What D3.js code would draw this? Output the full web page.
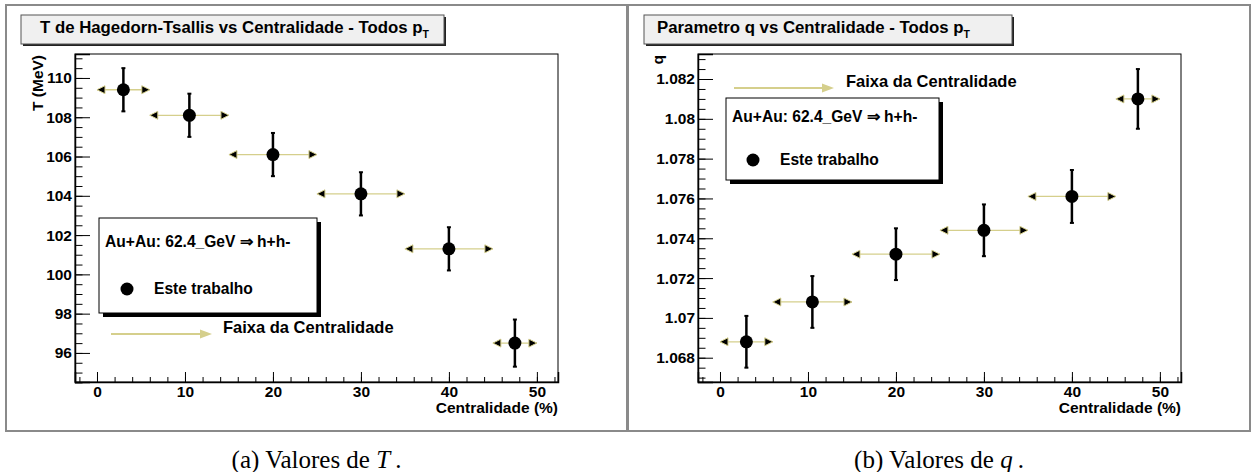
<!DOCTYPE html>
<html><head><meta charset="utf-8">
<script src="https://cdn.jsdelivr.net/npm/d3@7"></script>
<style>
  body { margin: 0; background: #fff; }
  svg { display: block; }
  text { font-family: "Liberation Sans", Arial, Helvetica, sans-serif; font-weight: bold; fill: #000; }
  .caption { font-family: "Liberation Serif", "Times New Roman", serif; font-weight: normal; }
</style>
</head><body>
<script>
// Centrality bins (%) and their half-widths
const centralidade = [3, 10.5, 20, 30, 40, 47.5];
const centralidadeErr = [3, 4.5, 5, 5, 5, 2.5];

// Hagedorn-Tsallis temperature T (MeV) with uncertainties
const tValues = [109.4, 108.1, 106.1, 104.1, 101.3, 96.5];
const tErrors = [1.1, 1.1, 1.1, 1.1, 1.1, 1.2];

// Tsallis q parameter with uncertainties
const qValues = [1.0688, 1.0708, 1.0732, 1.0744, 1.0761, 1.0810];
const qErrors = [0.0013, 0.0013, 0.0013, 0.0013, 0.00133, 0.0015];

// Axis ticks and labels
const xTicks = [0, 10, 20, 30, 40, 50];
const xTickLabels = ["0", "10", "20", "30", "40", "50"];
const tTicks = [96, 98, 100, 102, 104, 106, 108, 110];
const tTickLabels = ["96", "98", "100", "102", "104", "106", "108", "110"];
const qTicks = [1.068, 1.07, 1.072, 1.074, 1.076, 1.078, 1.08, 1.082];
const qTickLabels = ["1.068", "1.07", "1.072", "1.074", "1.076", "1.078", "1.08", "1.082"];

const KHAKI = "#d5cf8c";

const svg = d3.select("body").append("svg")
  .attr("width", 1255).attr("height", 472);

function drawPanel(cfg) {
  const g = svg.append("g");

  // pad frame
  g.append("rect")
    .attr("x", cfg.pad[0]).attr("y", cfg.pad[1])
    .attr("width", cfg.pad[2] - cfg.pad[0]).attr("height", cfg.pad[3] - cfg.pad[1])
    .attr("fill", "#fff").attr("stroke", "#8a8a8a").attr("stroke-width", 2);

  const x = d3.scaleLinear().domain([-2.5, 52.4]).range([cfg.plot.left, cfg.plot.right]);
  const y = d3.scaleLinear().domain(cfg.yDomain).range([cfg.plot.bottom, cfg.plot.top]);

  // plot frame
  g.append("rect")
    .attr("x", cfg.plot.left).attr("y", cfg.plot.top)
    .attr("width", cfg.plot.right - cfg.plot.left).attr("height", cfg.plot.bottom - cfg.plot.top)
    .attr("fill", "none").attr("stroke", "#000").attr("stroke-width", 1);

  // x axis: minor and major ticks pointing inward
  const xMinor = d3.range(-2, 52.5, 2);
  g.append("g").attr("transform", `translate(0,${cfg.plot.bottom})`)
    .call(d3.axisBottom(x).tickValues(xMinor).tickSize(-5).tickFormat(""))
    .call(a => a.select(".domain").remove());
  const xAx = g.append("g").attr("transform", `translate(0,${cfg.plot.bottom})`)
    .call(d3.axisBottom(x).tickValues(xTicks).tickSize(-10).tickPadding(4)
      .tickFormat((d, i) => xTickLabels[i]));
  xAx.select(".domain").attr("stroke", "#000").attr("stroke-width", 1.5);
  xAx.selectAll("text").style("font-size", "15.5px").attr("font-family", null);

  // y axis
  const yMinor = d3.range(cfg.minorStart, cfg.yDomain[1], cfg.minorStep);
  g.append("g").attr("transform", `translate(${cfg.plot.left},0)`)
    .call(d3.axisLeft(y).tickValues(yMinor).tickSize(-7.5).tickFormat(""))
    .call(a => a.select(".domain").remove());
  const yAx = g.append("g").attr("transform", `translate(${cfg.plot.left},0)`)
    .call(d3.axisLeft(y).tickValues(cfg.yTicks).tickSize(-15).tickPadding(3)
      .tickFormat((d, i) => cfg.yTickLabels[i]));
  yAx.select(".domain").attr("stroke", "#000").attr("stroke-width", 1.5);
  yAx.selectAll("text").style("font-size", "15.5px").attr("font-family", null);

  // axis titles
  g.append("text").attr("x", cfg.plot.right).attr("y", 413)
    .attr("text-anchor", "end").style("font-size", "15.5px").text("Centralidade (%)");
  g.append("text").attr("transform", `translate(${cfg.yLabelX},55) rotate(-90)`)
    .attr("text-anchor", "end").style("font-size", "15.5px").text(cfg.yLabel);

  // title box with shadow
  const tb = cfg.titleBox;
  g.append("rect").attr("x", tb[0] + 2).attr("y", tb[1] + 2)
    .attr("width", tb[2] - tb[0]).attr("height", tb[3] - tb[1]).attr("fill", "#222");
  g.append("rect").attr("x", tb[0]).attr("y", tb[1])
    .attr("width", tb[2] - tb[0]).attr("height", tb[3] - tb[1])
    .attr("fill", "#f0f0f0").attr("stroke", "#555").attr("stroke-width", 1);
  const title = g.append("text").attr("x", cfg.titleX).attr("y", 33).style("font-size", "16.8px");
  title.append("tspan").text(cfg.title + " p");
  title.append("tspan").attr("dy", 5).style("font-size", "10.5px").text("T");

  // data
  const vals = cfg.values, errs = cfg.errors;
  const pts = centralidade.map((c, i) => ({ c, ce: centralidadeErr[i], v: vals[i], e: errs[i] }));

  // horizontal bin-width arrows
  const hb = g.append("g");
  pts.forEach(p => {
    const yy = y(p.v), xl = x(p.c - p.ce), xr = x(p.c + p.ce);
    hb.append("line").attr("x1", xl).attr("x2", xr).attr("y1", yy).attr("y2", yy)
      .attr("stroke", KHAKI).attr("stroke-width", 1.3);
    hb.append("path").attr("d", `M${xl},${yy} L${xl + 8},${yy - 4} L${xl + 8},${yy + 4} Z`)
      .attr("fill", "#000").attr("stroke", KHAKI).attr("stroke-width", 1);
    hb.append("path").attr("d", `M${xr},${yy} L${xr - 8},${yy - 4} L${xr - 8},${yy + 4} Z`)
      .attr("fill", "#000").attr("stroke", KHAKI).attr("stroke-width", 1);
  });

  // vertical error bars
  const eb = g.append("g").attr("stroke", "#000");
  pts.forEach(p => {
    const xx = x(p.c), y1 = y(p.v + p.e), y2 = y(p.v - p.e);
    eb.append("line").attr("x1", xx).attr("x2", xx).attr("y1", y1).attr("y2", y2).attr("stroke-width", 2.5);
    eb.append("line").attr("x1", xx - 2).attr("x2", xx + 2).attr("y1", y1).attr("y2", y1).attr("stroke-width", 2);
    eb.append("line").attr("x1", xx - 2).attr("x2", xx + 2).attr("y1", y2).attr("y2", y2).attr("stroke-width", 2);
  });

  g.append("g").selectAll("circle").data(pts).join("circle")
    .attr("cx", d => x(d.c)).attr("cy", d => y(d.v)).attr("r", 6.5).attr("fill", "#000");

  // legend box
  const lb = cfg.legend;
  g.append("rect").attr("x", lb.box[0] + 4).attr("y", lb.box[1] + 4)
    .attr("width", lb.box[2] - lb.box[0]).attr("height", lb.box[3] - lb.box[1]).attr("fill", "#000");
  g.append("rect").attr("x", lb.box[0]).attr("y", lb.box[1])
    .attr("width", lb.box[2] - lb.box[0]).attr("height", lb.box[3] - lb.box[1])
    .attr("fill", "#fff").attr("stroke", "#000").attr("stroke-width", 1);
  g.append("text").attr("x", lb.box[0] + 6).attr("y", lb.line1).style("font-size", "15.6px")
    .text("Au+Au: 62.4_GeV \u21D2 h+h-");
  g.append("circle").attr("cx", lb.marker[0]).attr("cy", lb.marker[1]).attr("r", 6.5).attr("fill", "#000");
  g.append("text").attr("x", lb.entryX).attr("y", lb.marker[1] + 5).style("font-size", "15.6px")
    .text("Este trabalho");

  // centrality range arrow
  const fa = cfg.faixa;
  g.append("line").attr("x1", fa.x1).attr("x2", fa.x2 - 10).attr("y1", fa.y).attr("y2", fa.y)
    .attr("stroke", KHAKI).attr("stroke-width", 2);
  g.append("path").attr("d", `M${fa.x2},${fa.y} L${fa.x2 - 12},${fa.y - 4.5} L${fa.x2 - 12},${fa.y + 4.5} Z`)
    .attr("fill", KHAKI);
  g.append("text").attr("x", fa.textX).attr("y", fa.y - 1).style("font-size", "16.5px")
    .text("Faixa da Centralidade");

  // caption
  const cap = svg.append("text").attr("class", "caption")
    .attr("x", (cfg.pad[0] + cfg.pad[2]) / 2).attr("y", 468)
    .attr("text-anchor", "middle").style("font-size", "25px");
  cap.append("tspan").text(cfg.caption[0]);
  cap.append("tspan").style("font-style", "italic").text(cfg.caption[1]);
  cap.append("tspan").text("\u2009.");
}

drawPanel({
  pad: [6, 5, 627, 431],
  plot: { left: 75, top: 54, right: 558, bottom: 382 },
  yDomain: [94.52, 111.22],
  minorStart: 94.5, minorStep: 0.5,
  yTicks: tTicks, yTickLabels: tTickLabels,
  yLabel: "T (MeV)", yLabelX: 43,
  titleBox: [21, 15, 444, 44], titleX: 40,
  title: "T de Hagedorn-Tsallis vs Centralidade - Todos",
  values: tValues, errors: tErrors,
  legend: { box: [99, 218, 317, 313], line1: 247, marker: [127, 289], entryX: 154 },
  faixa: { x1: 111, x2: 212, y: 334, textX: 223 },
  caption: ["(a) Valores de ", "T"]
});

drawPanel({
  pad: [628, 5, 1250, 431],
  plot: { left: 698, top: 54, right: 1181, bottom: 382 },
  yDomain: [1.06678, 1.083256],
  minorStart: 1.067, minorStep: 0.0005,
  yTicks: qTicks, yTickLabels: qTickLabels,
  yLabel: "q", yLabelX: 663,
  titleBox: [644, 15, 1012, 44], titleX: 657,
  title: "Parametro q vs Centralidade - Todos",
  values: qValues, errors: qErrors,
  legend: { box: [726, 98, 939, 180], line1: 122, marker: [753, 160], entryX: 780 },
  faixa: { x1: 734, x2: 834, y: 88, textX: 846 },
  caption: ["(b) Valores de ", "q"]
});
</script>
</body></html>
